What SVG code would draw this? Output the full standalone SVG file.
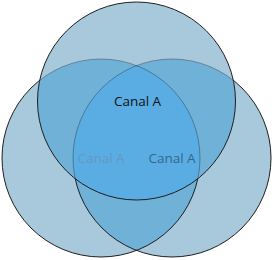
<svg xmlns="http://www.w3.org/2000/svg" width="275" height="260" viewBox="0 0 275 260">
  <style>
    .lbl { font-family: "Open Sans", "Liberation Sans", sans-serif; font-size: 13.5px; text-anchor: middle; }
    .single { fill: #a8c8db; }
    .double { fill: #70b1d8; }
    .triple { fill: #5aade2; }
    .edge { fill: none; stroke: #1e1e1e; stroke-width: 1; }
    .edge-faint { fill: none; stroke: #000; stroke-opacity: 0.3; stroke-width: 1; }
  </style>
  <defs>
    <clipPath id="cL"><circle cx="101" cy="158" r="99"/></clipPath>
    <clipPath id="cR"><circle cx="172" cy="158" r="99"/></clipPath>
    <clipPath id="cT"><circle cx="136.5" cy="101" r="99"/></clipPath>
    <mask id="outT">
      <rect x="0" y="0" width="275" height="260" fill="#fff"/>
      <circle cx="136.5" cy="101" r="99" fill="#000"/>
    </mask>
  </defs>

  <g id="fills">
    <circle class="single" cx="101" cy="158" r="99"/>
    <circle class="single" cx="172" cy="158" r="99"/>
    <circle class="single" cx="136.5" cy="101" r="99"/>
    <g clip-path="url(#cL)">
      <circle class="double" cx="172" cy="158" r="99"/>
      <circle class="double" cx="136.5" cy="101" r="99"/>
    </g>
    <g clip-path="url(#cR)">
      <circle class="double" cx="136.5" cy="101" r="99"/>
    </g>
    <g clip-path="url(#cL)">
      <g clip-path="url(#cR)">
        <circle class="triple" cx="136.5" cy="101" r="99"/>
      </g>
    </g>
  </g>

  <g id="circle-left">
    <circle class="edge" cx="101" cy="158" r="99" mask="url(#outT)"/>
    <circle class="edge-faint" cx="101" cy="158" r="99" clip-path="url(#cT)"/>
    <text class="lbl" x="101" y="162.5" fill="#6497c2">Canal A</text>
  </g>
  <g id="circle-right">
    <circle class="edge" cx="172" cy="158" r="99" mask="url(#outT)"/>
    <circle class="edge-faint" cx="172" cy="158" r="99" clip-path="url(#cT)"/>
    <text class="lbl" x="172" y="162.5" fill="#36668c">Canal A</text>
  </g>
  <g id="circle-top">
    <circle class="edge" cx="136.5" cy="101" r="99"/>
    <text class="lbl" x="137.5" y="106" fill="#111">Canal A</text>
  </g>
</svg>
